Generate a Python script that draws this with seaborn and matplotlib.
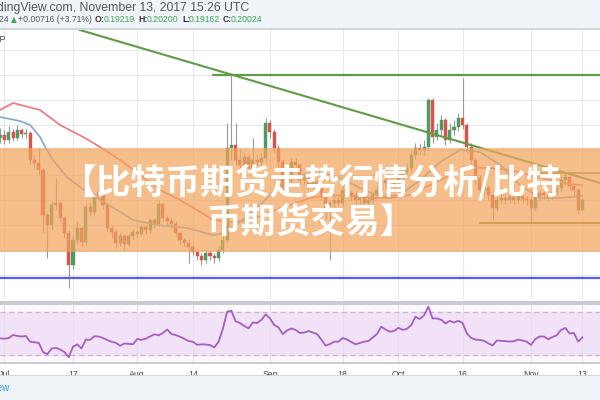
import numpy as np
import matplotlib
matplotlib.use("Agg")
import matplotlib.pyplot as plt
import seaborn as sns
from matplotlib.patches import Rectangle

# ---- data (daily candles, day 0 = Jul 1 2017, last = Nov 13) ----
days = list(range(-1, 136))
first_open = 0.250
closes = [
    0.252, 0.248, 0.2544, 0.2496, 0.256, 0.2528, 0.2536,
    0.232, 0.2296, 0.224, 0.188, 0.180, 0.196, 0.1976, 0.1856, 0.1736, 0.148,
    0.168, 0.1776, 0.1664, 0.1944, 0.1904, 0.2032, 0.2064, 0.196, 0.1776, 0.1744,
    0.1656, 0.1712, 0.1648, 0.1712, 0.1744, 0.1728, 0.1784, 0.176, 0.184, 0.1808,
    0.1968, 0.1856, 0.1832, 0.1808, 0.1736, 0.168, 0.1656, 0.1624, 0.1584, 0.1552,
    0.152, 0.1576, 0.1552, 0.1536, 0.160, 0.168, 0.2416, 0.244, 0.232, 0.228,
    0.2344, 0.2256, 0.232, 0.2304, 0.2336, 0.2616, 0.2544, 0.2416, 0.2304, 0.2104,
    0.216, 0.2304, 0.228, 0.216, 0.2176, 0.212, 0.2144, 0.212, 0.204, 0.1936,
    0.1976, 0.200, 0.1976, 0.208, 0.2056, 0.204, 0.200, 0.2016, 0.1976, 0.200,
    0.204, 0.208, 0.216, 0.2136, 0.212, 0.2136, 0.2176, 0.2224, 0.2256, 0.236,
    0.2416, 0.240, 0.2424, 0.280, 0.2504, 0.256, 0.264, 0.248, 0.256, 0.2584,
    0.2656, 0.260, 0.2424, 0.232, 0.2176, 0.208, 0.2096, 0.204, 0.1936, 0.200,
    0.2016, 0.200, 0.2024, 0.200, 0.2032, 0.2008, 0.200, 0.1936, 0.2024, 0.2056,
    0.204, 0.2024, 0.2064, 0.2096, 0.216, 0.2184, 0.2112, 0.208, 0.19219, 0.20024,
]
highs = [
    0.258, 0.256, 0.259, 0.257, 0.260, 0.258, 0.257,
    0.255, 0.236, 0.242, 0.226, 0.190, 0.199, 0.218, 0.199, 0.187, 0.176,
    0.172, 0.183, 0.179, 0.197, 0.198, 0.206, 0.210, 0.208, 0.198, 0.180,
    0.177, 0.174, 0.173, 0.173, 0.177, 0.176, 0.181, 0.180, 0.186, 0.186,
    0.200, 0.198, 0.188, 0.186, 0.183, 0.175, 0.170, 0.168, 0.165, 0.161,
    0.158, 0.160, 0.160, 0.158, 0.163, 0.172, 0.262, 0.300, 0.262, 0.240,
    0.238, 0.237, 0.250, 0.236, 0.238, 0.266, 0.264, 0.257, 0.244, 0.233,
    0.220, 0.234, 0.234, 0.230, 0.222, 0.220, 0.218, 0.217, 0.215, 0.207,
    0.200, 0.204, 0.203, 0.211, 0.211, 0.208, 0.207, 0.205, 0.204, 0.203,
    0.207, 0.211, 0.220, 0.219, 0.216, 0.217, 0.221, 0.226, 0.230, 0.240,
    0.246, 0.246, 0.248, 0.282, 0.282, 0.262, 0.268, 0.266, 0.262, 0.264,
    0.270, 0.298, 0.262, 0.246, 0.234, 0.220, 0.214, 0.212, 0.206, 0.203,
    0.205, 0.204, 0.205, 0.204, 0.206, 0.205, 0.203, 0.202, 0.205, 0.208,
    0.207, 0.206, 0.209, 0.212, 0.219, 0.222, 0.219, 0.213, 0.210, 0.202,
]
lows = [
    0.246, 0.245, 0.246, 0.247, 0.248, 0.250, 0.250,
    0.229, 0.226, 0.220, 0.174, 0.154, 0.176, 0.192, 0.183, 0.170, 0.1296,
    0.145, 0.165, 0.163, 0.164, 0.187, 0.188, 0.201, 0.193, 0.175, 0.170,
    0.162, 0.163, 0.160, 0.163, 0.169, 0.170, 0.171, 0.173, 0.174, 0.178,
    0.179, 0.183, 0.180, 0.178, 0.171, 0.165, 0.163, 0.150, 0.156, 0.152,
    0.148, 0.150, 0.152, 0.150, 0.151, 0.158, 0.166, 0.232, 0.228, 0.222,
    0.225, 0.222, 0.223, 0.227, 0.228, 0.231, 0.250, 0.238, 0.226, 0.205,
    0.206, 0.213, 0.224, 0.212, 0.213, 0.209, 0.209, 0.208, 0.200, 0.185,
    0.152, 0.194, 0.195, 0.195, 0.202, 0.200, 0.197, 0.197, 0.194, 0.195,
    0.198, 0.201, 0.206, 0.210, 0.209, 0.209, 0.211, 0.215, 0.220, 0.223,
    0.233, 0.236, 0.236, 0.240, 0.246, 0.248, 0.252, 0.244, 0.246, 0.252,
    0.255, 0.257, 0.238, 0.228, 0.212, 0.202, 0.204, 0.200, 0.184, 0.191,
    0.197, 0.197, 0.198, 0.197, 0.198, 0.198, 0.196, 0.182, 0.191, 0.200,
    0.201, 0.199, 0.200, 0.205, 0.207, 0.212, 0.208, 0.204, 0.189, 0.19162,
]
rsi = [
    45.5, 45.1, 45.8, 48.6, 47.7, 47.2, 47.7,
    42.4, 41.8, 41.3, 32.8, 30.7, 36.0, 36.7, 35.1, 32.8, 27.9,
    37.7, 39.8, 36.2, 44.4, 44.1, 47.5, 47.2, 45.8, 44.0, 42.3,
    41.3, 38.7, 40.7, 40.4, 40.0, 44.9, 44.1, 45.2, 47.2, 49.3,
    48.3, 50.5, 53.7, 49.5, 48.6, 47.0, 45.1, 43.0, 42.3, 39.5,
    39.9, 39.8, 39.3, 37.0, 42.3, 54.2, 70.3, 71.2, 61.2, 59.8,
    57.0, 54.8, 60.2, 59.8, 62.6, 67.7, 64.1, 57.9, 55.6, 49.5,
    52.8, 54.7, 53.3, 50.5, 50.9, 52.3, 50.9, 49.5, 44.4, 38.8,
    40.2, 42.4, 42.4, 45.8, 44.4, 42.1, 40.0, 41.2, 42.4, 43.0,
    46.3, 49.5, 56.3, 53.7, 51.7, 52.3, 55.3, 53.4, 54.2, 57.9,
    65.6, 63.5, 66.9, 74.9, 64.0, 64.0, 62.8, 59.3, 61.8, 60.2,
    61.8, 59.8, 50.0, 46.0, 44.4, 44.0, 43.2, 40.9, 38.8, 43.5,
    43.2, 42.8, 42.5, 42.8, 44.4, 43.5, 42.4, 39.3, 44.9, 47.2,
    47.2, 44.7, 46.7, 48.4, 53.3, 55.1, 50.0, 50.5, 42.4, 46.5,
]

# moving average lines
ma_fast_days = [-1.05, 3.6, 6.0, 8.3, 9.5, 11.3, 14.6, 17.6, 21.6, 26.3, 30.0, 35.6,
                42.6, 48.7, 51.5, 55.0, 59.7, 64.4, 69.0, 73.7, 78.4, 83.1, 87.7,
                92.4, 97.1, 101.8, 106.4, 111.1, 115.8, 120.4, 125.1, 129.8, 134.9]
ma_fast = [0.2664, 0.2632, 0.260, 0.2504, 0.2424, 0.232, 0.2184, 0.2104, 0.2016, 0.192,
           0.184, 0.180, 0.1776, 0.172, 0.1736, 0.1824, 0.196, 0.212, 0.220, 0.2224,
           0.2176, 0.2096, 0.2024, 0.204, 0.216, 0.2304, 0.240, 0.2384, 0.228, 0.212,
           0.2016, 0.2016, 0.2032]
ma_slow_days = [-1.05, 2.0, 8.3, 13.0, 18.8, 22.3, 27.0, 31.7, 36.3, 41.0, 45.7, 48.7,
                52.7, 57.4, 62.0, 66.7, 71.4, 76.1, 80.7, 85.4, 90.1, 94.7, 99.4,
                104.1, 108.8, 113.4, 118.1, 122.8, 127.5, 132.1, 134.9]
ma_slow = [0.272, 0.2776, 0.272, 0.260, 0.2496, 0.2424, 0.232, 0.220, 0.208, 0.200,
           0.1904, 0.184, 0.1824, 0.184, 0.1904, 0.196, 0.2016, 0.204, 0.2032, 0.2016,
           0.2016, 0.204, 0.212, 0.220, 0.2256, 0.2256, 0.224, 0.220, 0.216, 0.2128, 0.212]

# drawn trend / level lines
trend_days = [17.6, 139.1]
trend_prices = [0.336, 0.2136]
top_level_days = [48.7, 139.1]
top_level = [0.300, 0.300]
mid_level_days = [125.1, 139.1]
mid_level = [0.2216, 0.2216]
low_level_days = [111.1, 139.1]
low_level = [0.1816, 0.1816]
support_days = [-1.05, 139.1]
support = [0.1376, 0.1376]

tick_days = [0, 16, 31, 44, 62, 79, 92, 107, 123, 135]
tick_labels = ["Jul", "17", "Aug", "14", "Sep", "18", "Oct", "16", "Nov", "13"]
grid_prices = [0.14, 0.16, 0.18, 0.20, 0.22, 0.24, 0.26, 0.28, 0.30, 0.32]

title_lines = ["【比特币期货走势行情分析/比特", "币期货交易】"]

# ---- figure ----
sns.set_style("white")
plt.rcParams['font.family'] = ['Liberation Sans', 'DejaVu Sans']

W, H = 600, 400
def fx(x):
    return x / W
def fy(y):
    return 1 - y / H

fig = plt.figure(figsize=(6, 4), dpi=100)
fig.patch.set_facecolor("white")
ax = fig.add_axes([0, fy(300), 1, 270 / H])
ax_rsi = fig.add_axes([0, fy(362), 1, 57 / H])

xlim = (-1.05, 139.1)

# candles
o = np.array([first_open] + closes[:-1])
c = np.array(closes)
up_col, dn_col = "#4e9a62", "#d9534a"
cols = [up_col if cc >= oo else dn_col for oo, cc in zip(o, c)]
ax.vlines(days, lows, highs, color="#9a9a9a", lw=0.8, zorder=2)
ax.bar(days, np.maximum(np.abs(c - o), 0.0006), bottom=np.minimum(o, c), width=0.72,
       color=cols, edgecolor=cols, lw=0.3, zorder=3)

sns.lineplot(x=ma_slow_days, y=ma_slow, ax=ax, color="#ef7676", lw=1.2, zorder=4)
sns.lineplot(x=ma_fast_days, y=ma_fast, ax=ax, color="#7ea7d6", lw=1.2, zorder=4)

green = "#5e9c45"
ax.plot(trend_days, trend_prices, color=green, lw=1.5, zorder=5)
ax.plot(top_level_days, top_level, color=green, lw=1.6, zorder=5)
ax.plot(mid_level_days, mid_level, color="#8c9a45", lw=1.3, zorder=5)
ax.plot(low_level_days, low_level, color="#7d8a35", lw=1.5, zorder=5)
ax.plot(support_days, support, color="#5a5af0", lw=1.6, zorder=5)

ax.set_xlim(*xlim)
ax.set_ylim(0.12, 0.336)
ax.set_xticks(tick_days)
ax.set_yticks(grid_prices)
ax.grid(True, color="#e7eaed", lw=0.8)
ax.set_axisbelow(True)
ax.tick_params(length=0, labelbottom=False, labelleft=False)
ax.set_xlabel("")
ax.set_ylabel("")
sns.despine(ax=ax, left=True, bottom=True, top=True, right=True)

# RSI panel
ax_rsi.set_facecolor("#fbf7fd")
ax_rsi.axhspan(30, 70, color="#f1e2f8", zorder=0)
ax_rsi.axhline(70, ls=(0, (4, 3)), color="#c4b4cc", lw=0.9, zorder=1)
ax_rsi.axhline(30, ls=(0, (4, 3)), color="#c4b4cc", lw=0.9, zorder=1)
sns.lineplot(x=days, y=rsi, ax=ax_rsi, color="#a55fc2", lw=1.3, zorder=3)
ax_rsi.set_xlim(*xlim)
ax_rsi.set_ylim(23.5, 76.5)
ax_rsi.set_xticks(tick_days, tick_labels)
ax_rsi.set_yticks([])
ax_rsi.grid(True, axis="x", color="#e4e0e8", lw=0.8)
ax_rsi.set_axisbelow(True)
ax_rsi.tick_params(axis="x", length=3, color="#b5b5b5", labelsize=6.3,
                   labelcolor="#444444", pad=3)
ax_rsi.set_xlabel("")
ax_rsi.set_ylabel("")
sns.despine(ax=ax_rsi, left=True, bottom=True, top=True, right=True)

# frame bands
def band(y0, y1, color, z=6, alpha=1.0):
    fig.add_artist(Rectangle((0, fy(y1)), 1, (y1 - y0) / H, transform=fig.transFigure,
                             color=color, alpha=alpha, zorder=z, lw=0))

band(0, 28, "#f0f3f7")
band(27.5, 30, "#d3d7dc")
band(300.5, 304.5, "#c9cdd2")
band(361.5, 364, "#c9cdd2")
band(375, 400, "#eff2f6")
band(374.5, 376, "#d3d7dc")

# header texts
fig.text(fx(-21), fy(7.5), "TradingView.com, November 13, 2017 15:26 UTC", fontsize=8.8,
         color="#555555", va="center", ha="left", zorder=8)
hy = fy(20)
fs = 6.2
fig.text(fx(9), hy, "0.20024", fontsize=fs, color="#555555", va="center", ha="right", zorder=8)
fig.text(fx(10.5), hy, "▲", fontsize=5.5, color="#3aa55a", va="center", ha="left",
         family=["DejaVu Sans"], zorder=8)
fig.text(fx(18), hy, "+0.00716 (+3.71%)", fontsize=fs, color="#555555", va="center",
         ha="left", zorder=8)
for lab, val, x0, xv in [("O:", "0.19219", 95, 104), ("H:", "0.20200", 138, 147),
                         ("L:", "0.19162", 182, 189), ("C:", "0.20024", 223, 231)]:
    fig.text(fx(x0), hy, lab, fontsize=fs, color="#333333", fontweight="bold",
             va="center", ha="left", zorder=8)
    fig.text(fx(xv), hy, val, fontsize=fs, color="#3aa55a", va="center", ha="left", zorder=8)
fig.text(fx(6), fy(40), "XRP", fontsize=6.5, color="#444444", ha="right", va="center", zorder=8)
fig.text(fx(10), fy(388), "TradingView", fontsize=7, color="#3aa0db", ha="right",
         va="center", zorder=8)

# orange banner with title
band(148, 252, "#f2a55f", z=10, alpha=0.72)
for line, y in zip(title_lines, [182, 222]):
    fig.text(0.518, fy(y), line, fontsize=25, color="white", fontweight="bold",
             family=["Noto Sans CJK SC", "DejaVu Sans"], ha="center", va="center", zorder=11)

fig.savefig("out.png", dpi=100, facecolor="white")
